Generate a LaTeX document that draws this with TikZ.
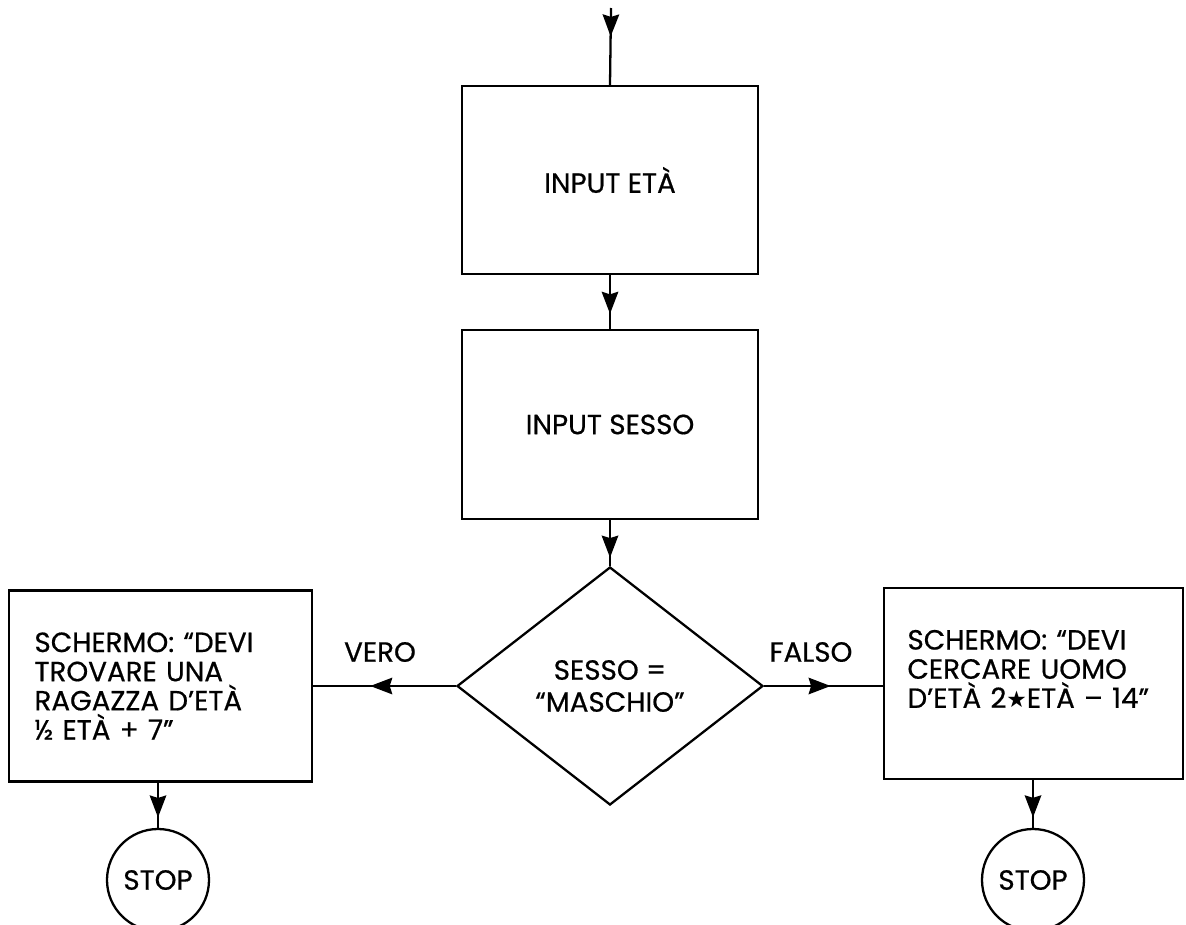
\documentclass[tikz,border=0pt]{standalone}
\usepackage{fontspec}
\setmainfont{Poppins}[FakeBold=0.6]
\newfontfamily\simboli{DejaVu Sans}
\usetikzlibrary{shapes.geometric, arrows.meta, decorations.markings}
\tikzstyle{blocco} = [draw, line width=1.3pt, minimum width=5.92cm, minimum height=3.76cm]
\tikzstyle{schermo} = [draw, line width=1.3pt, align=left, text width=5.04cm, minimum height=3.82cm]
\tikzstyle{scelta} = [draw, diamond, aspect=1.29, inner sep=0pt, line width=1.3pt, minimum width=6.12cm, minimum height=4.76cm, align=center]
\tikzstyle{fine} = [draw, circle, inner sep=0pt, line width=1.3pt, minimum size=2.04cm]
\tikzset{freccia/.style={line width=1.3pt, postaction={decorate},
    decoration={markings, mark=at position #1 with {\arrow{Stealth[length=4.4mm,width=3.3mm,inset=0.5mm]}}}}}

\begin{document}
\begin{tikzpicture}[font=\fontsize{15.8}{16.6}\selectfont]
    \useasboundingbox (0,0) rectangle (23.72,-18.5);
    \coordinate (inizio) at (12.22,-0.16);
    % blocchi centrali
    \node[blocco] (eta) at (12.2,-3.6) {INPUT ETÀ};
    \node[blocco, minimum height=3.78cm] (sesso) at (12.2,-8.49) {INPUT SESSO};
    \node[scelta] (test) at (12.2,-13.72)
        {\raisebox{-0.2cm}{\parbox{4cm}{\centering SESSO =\\[1.6pt]“MASCHIO”}}};
    % rami
    \node[schermo, minimum width=6.06cm] (msgM) at (3.21,-13.72)
        {SCHERMO: “DEVI\\TROVARE UNA\\RAGAZZA D’ETÀ\\½ ETÀ + 7”};
    \node[schermo, minimum width=5.98cm] (msgF) at (20.67,-13.67)
        {SCHERMO: “DEVI\\CERCARE UOMO\\D’ETÀ 2{\simboli\fontsize{13}{14}\selectfont★}ETÀ – 14”\\\mbox{}};
    \node (vero) at (7.6,-13.04) {VERO};
    \node (falso) at (16.22,-13.04) {FALSO};
    \node[fine] (stopM) at (3.16,-17.6) {STOP};
    \node[fine] (stopF) at (20.66,-17.6) {STOP};
    % frecce
    \draw[freccia=0.37] (inizio) -- (eta.north);
    \draw[freccia=0.72] (eta) -- (sesso);
    \draw[freccia=0.82] (sesso) -- (test);
    \draw[freccia=0.6] (test.west) -- (test.west -| msgM.east);
    \draw[freccia=0.56] (test.east) -- (test.east -| msgF.west);
    \draw[freccia=0.77] (stopM |- msgM.south) -- (stopM);
    \draw[freccia=0.78] (stopF |- msgF.south) -- (stopF);
\end{tikzpicture}
\end{document}
